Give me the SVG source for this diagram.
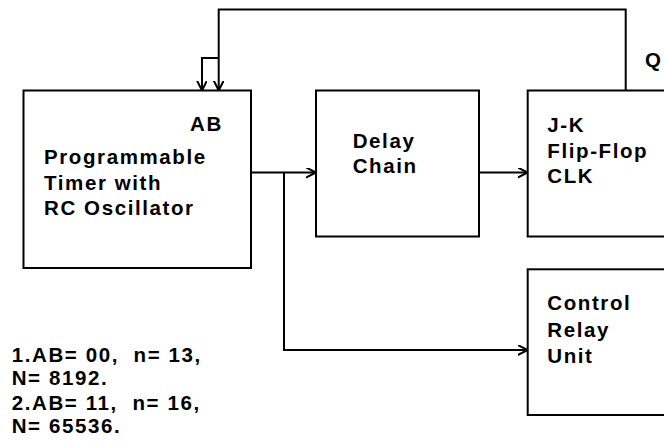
<svg xmlns="http://www.w3.org/2000/svg" width="664" height="443" viewBox="0 0 664 443">
<defs>
<marker id="arr" markerUnits="userSpaceOnUse" markerWidth="14" markerHeight="14" refX="10" refY="5" orient="auto">
<path d="M0,0 L10,5 L0,10" fill="none" stroke="#000" stroke-width="2"/>
</marker>
</defs>
<style>
.box{fill:#fff;stroke:#000;stroke-width:2}
.ln{fill:none;stroke:#000;stroke-width:2}
text{font-family:"Liberation Sans",Arial,sans-serif;font-weight:bold;font-size:20.5px;letter-spacing:1.6px;fill:#000;white-space:pre}
</style>
<rect width="664" height="443" fill="#fff"/>
<g id="connectors">
<path class="ln" d="M251,172.5 H316" marker-end="url(#arr)"/>
<path class="ln" d="M284,172.5 V350 H527.7" marker-end="url(#arr)"/>
<path class="ln" d="M479,172.5 H527.7" marker-end="url(#arr)"/>
<path class="ln" d="M625.7,90.5 V9.5 H218.7 V90.5" marker-end="url(#arr)"/>
<path class="ln" d="M218.7,58 H202 V90.5" marker-end="url(#arr)"/>
</g>
<g id="timer">
<rect class="box" x="23.5" y="90.5" width="227.5" height="177.5"/>
<text x="190" y="131">AB</text>
<text x="44" y="164">Programmable</text>
<text x="44" y="190">Timer with</text>
<text x="44" y="215">RC Oscillator</text>
</g>
<g id="delay">
<rect class="box" x="316" y="90.5" width="163" height="146"/>
<text x="352.7" y="148">Delay</text>
<text x="352.7" y="173">Chain</text>
</g>
<g id="jk">
<rect class="box" x="527.7" y="90.5" width="200" height="146"/>
<text x="547.3" y="132">J-K</text>
<text x="547.3" y="158">Flip-Flop</text>
<text x="547.3" y="183">CLK</text>
<text x="645" y="66.5">Q</text>
</g>
<g id="relay">
<rect class="box" x="527.7" y="269.3" width="200" height="145.7"/>
<text x="547.3" y="310">Control</text>
<text x="547.3" y="336.5">Relay</text>
<text x="547.3" y="362.5">Unit</text>
</g>
<g id="notes">
<text x="11.7" y="361.5">1.AB= 00,  n= 13,</text>
<text x="11.7" y="385">N= 8192.</text>
<text x="11.7" y="410">2.AB= 11,  n= 16,</text>
<text x="11.7" y="433">N= 65536.</text>
</g>
</svg>
